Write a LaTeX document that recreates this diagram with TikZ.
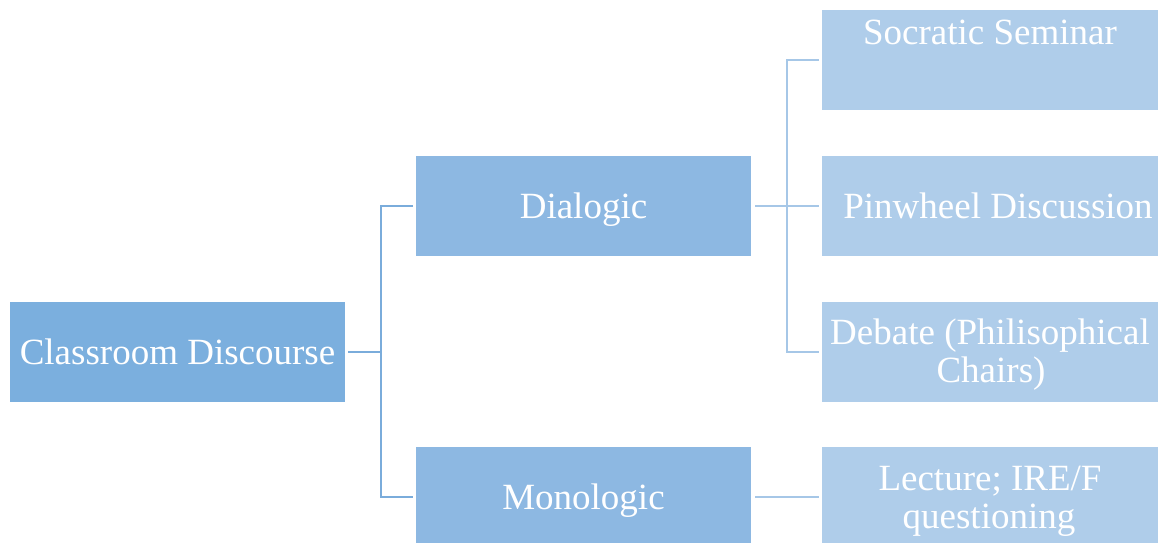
\documentclass[tikz,border=0pt]{standalone}
\usepackage{fontspec}
\setmainfont{Liberation Serif}
\definecolor{rootblue}{HTML}{7BAFDE}
\definecolor{midblue}{HTML}{8DB8E2}
\definecolor{leafblue}{HTML}{AFCDEA}
\definecolor{linedark}{HTML}{7AACDB}
\definecolor{linelight}{HTML}{A6C7E7}
\begin{document}
\begin{tikzpicture}[x=1pt,y=-1pt,
  box/.style={rectangle,inner sep=0pt,outer sep=0pt,minimum width=335pt,minimum height=100pt},
  rootbox/.style={box,fill=rootblue},
  midbox/.style={box,fill=midblue},
  leafbox/.style={box,fill=leafblue,minimum width=336pt},
  txt/.style={anchor=base,text=white,inner sep=0pt,font=\fontsize{37}{38}\selectfont},
  conndark/.style={draw=linedark,line width=2.6pt},
  connlight/.style={draw=linelight,line width=2.6pt}]
\useasboundingbox (0,0) rectangle (1163,543);
\clip (0,0) rectangle (1163,543);

% boxes
\node[rootbox] (root) at (177.5,352) {};
\node[midbox]  (dia)  at (583.5,206) {};
\node[midbox]  (mono) at (583.5,497) {};
\node[leafbox] (soc)  at (990,60)  {};
\node[leafbox] (pin)  at (990,206) {};
\node[leafbox] (deb)  at (990,352) {};
\node[leafbox] (lec)  at (990,497) {};

% labels
\node[txt] (troot) at (177.5,364) {Classroom Discourse};
\node[txt] (tdia)  at (583.5,218) {Dialogic};
\node[txt] (tmono) at (583.5,509) {Monologic};
\node[txt] (tsoc)  at (990,45)  {Socratic Seminar};
\node[txt] (tpin)  at (998,218) {Pinwheel Discussion};
\node[txt] (tdeb1) at (990,344) {Debate (Philisophical};
\node[txt] (tdeb2) at (991,382) {Chairs)};
\node[txt] (tlec1) at (990,490) {Lecture; IRE/F};
\node[txt] (tlec2) at (989,528) {questioning};

% junctions
\coordinate (j1) at (381,352);
\coordinate (j2) at (787,206);

% connectors
\draw[conndark] ([xshift=3pt]root.east) -- (j1);
\draw[conndark] ([xshift=-3pt]dia.west) -| (j1) |- ([xshift=-3pt]mono.west);
\draw[connlight] ([xshift=4pt]dia.east) -- ([xshift=-3pt]pin.west);
\draw[connlight] ([xshift=-3pt]soc.west) -| (j2) |- ([xshift=-3pt]deb.west);
\draw[connlight] ([xshift=4pt]mono.east) -- ([xshift=-3pt]lec.west);
\end{tikzpicture}
\end{document}
